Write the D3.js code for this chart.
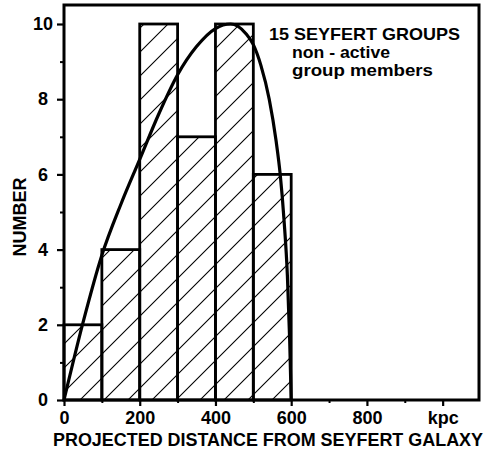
<!DOCTYPE html>
<html>
<head>
<meta charset="utf-8">
<script src="https://cdn.jsdelivr.net/npm/d3@7"></script>
<style>
  html, body { margin: 0; padding: 0; background: #fff; }
  svg { display: block; }
  text { font-family: "Liberation Sans", Arial, sans-serif; fill: #000; }
</style>
</head>
<body>
<svg id="chart" width="491" height="457"></svg>
<script>
// ---- data ----
const binStarts = [0, 100, 200, 300, 400, 500];
const binWidth = 100;
const counts = [2, 4, 10, 7, 10, 6];
const curveX = [0, 50, 100, 150, 200, 250, 300, 350, 400, 440, 480, 500, 520, 542, 560, 571, 581, 590, 596, 600];
const curveY = [0, 2.05, 3.85, 5.2, 6.4, 7.6, 8.65, 9.4, 9.88, 10.0, 9.75, 9.45, 8.9, 8.0, 6.9, 6.0, 4.8, 3.3, 1.6, 0];
const xMajorTicks = [0, 200, 400, 600, 800, 1000];
const xTickLabels = ["0", "200", "400", "600", "800", "kpc"];
const xMinorTicks = [100, 300, 500, 700, 900];
const yMajorTicks = [0, 2, 4, 6, 8, 10];
const yMinorTicks = [1, 3, 5, 7, 9];
const legendLines = ["15 SEYFERT GROUPS", "non - active", "group members"];
const xTitle = "PROJECTED DISTANCE FROM SEYFERT GALAXY";
const yTitle = "NUMBER";

// ---- layout ----
const svg = d3.select("#chart");
const mLeft = 64, mRight = 479, mTop = 5, mBottom = 400;
const x = d3.scaleLinear().domain([0, 1096]).range([mLeft, mRight]);
const y = d3.scaleLinear().domain([0, 10]).range([mBottom, 24]);

svg.append("rect").attr("width", 491).attr("height", 457).attr("fill", "#fff");

// hatch pattern
const defs = svg.append("defs");
const pat = defs.append("pattern")
  .attr("id", "hatch")
  .attr("patternUnits", "userSpaceOnUse")
  .attr("width", 24).attr("height", 24);
pat.append("path")
  .attr("d", "M-6,6 L6,-6 M0,24 L24,0 M18,30 L30,18")
  .attr("stroke", "#000").attr("stroke-width", 1.1);

// bars
const bars = binStarts.map((s, i) => ({ x0: s, x1: s + binWidth, v: counts[i] }));
svg.append("g").selectAll("rect").data(bars).join("rect")
  .attr("x", d => x(d.x0))
  .attr("y", d => y(d.v))
  .attr("width", d => x(d.x1) - x(d.x0))
  .attr("height", d => y(0) - y(d.v))
  .attr("fill", "url(#hatch)")
  .attr("stroke", "#000")
  .attr("stroke-width", 2.8);

// curve
const pts = curveX.map((v, i) => [v, curveY[i]]);
svg.append("path")
  .datum(pts)
  .attr("fill", "none")
  .attr("stroke", "#000")
  .attr("stroke-width", 3.2)
  .attr("d", d3.line().x(d => x(d[0])).y(d => y(d[1])).curve(d3.curveMonotoneX));

// frame
svg.append("rect")
  .attr("x", mLeft).attr("y", mTop)
  .attr("width", mRight - mLeft).attr("height", mBottom - mTop)
  .attr("fill", "none").attr("stroke", "#000").attr("stroke-width", 3);

// x axis ticks
const xAxisMajor = d3.axisBottom(x).tickValues(xMajorTicks).tickSize(6).tickPadding(5)
  .tickFormat((d, i) => xTickLabels[i]);
const gx = svg.append("g").attr("transform", `translate(0,${mBottom})`).call(xAxisMajor);
gx.select(".domain").remove();
gx.selectAll("line").attr("stroke", "#000").attr("stroke-width", 2.2);
gx.selectAll("text").attr("font-size", 18).attr("font-weight", "bold").attr("fill", "#000")
  .attr("font-family", "Liberation Sans, Arial, sans-serif");

const gxm = svg.append("g").attr("transform", `translate(0,${mBottom})`)
  .call(d3.axisBottom(x).tickValues(xMinorTicks).tickSize(3).tickFormat(""));
gxm.select(".domain").remove();
gxm.selectAll("line").attr("stroke", "#000").attr("stroke-width", 2);

// y axis ticks
const gy = svg.append("g").attr("transform", `translate(${mLeft},0)`)
  .call(d3.axisLeft(y).tickValues(yMajorTicks).tickSize(7).tickPadding(0).tickFormat(d3.format("d")));
gy.select(".domain").remove();
gy.selectAll("line").attr("stroke", "#000").attr("stroke-width", 2.2);
gy.selectAll("text")
  .attr("x", -21).attr("text-anchor", "middle")
  .attr("font-size", 18).attr("font-weight", "bold").attr("fill", "#000")
  .attr("font-family", "Liberation Sans, Arial, sans-serif");

const gym = svg.append("g").attr("transform", `translate(${mLeft},0)`)
  .call(d3.axisLeft(y).tickValues(yMinorTicks).tickSize(4).tickFormat(""));
gym.select(".domain").remove();
gym.selectAll("line").attr("stroke", "#000").attr("stroke-width", 2);

// axis titles
svg.append("text")
  .attr("x", 53).attr("y", 446)
  .attr("font-size", 18).attr("font-weight", "bold")
  .attr("textLength", 430).attr("lengthAdjust", "spacingAndGlyphs")
  .text(xTitle);

svg.append("text")
  .attr("transform", "translate(26,217) rotate(-90)")
  .attr("text-anchor", "middle")
  .attr("font-size", 18).attr("font-weight", "bold")
  .text(yTitle);

// legend
const legendPos = [[269, 40, 191], [292, 58, 98], [292, 76, 141]];
svg.append("g").selectAll("text").data(legendLines).join("text")
  .attr("x", (d, i) => legendPos[i][0])
  .attr("y", (d, i) => legendPos[i][1])
  .attr("textLength", (d, i) => legendPos[i][2])
  .attr("lengthAdjust", "spacingAndGlyphs")
  .attr("font-size", 17)
  .attr("font-weight", "bold")
  .text(d => d);
</script>
</body>
</html>
